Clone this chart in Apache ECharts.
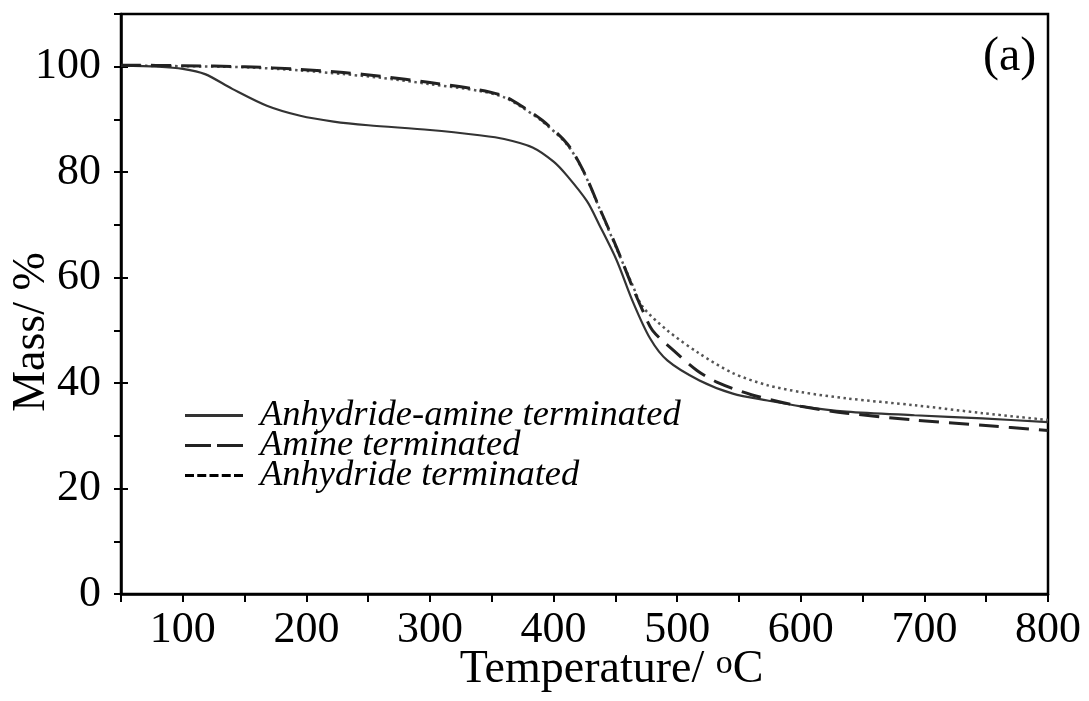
<!DOCTYPE html>
<html><head><meta charset="utf-8">
<script src="https://cdn.jsdelivr.net/npm/echarts@6/dist/echarts.min.js"></script>
<style>html,body{margin:0;padding:0;background:#fff}#c{width:1089px;height:701px}</style>
</head><body><div id="c"></div>
<script>
// Series names
const seriesNames = ['Anhydride-amine terminated', 'Amine terminated', 'Anhydride terminated'];
// Anhydride-amine terminated (solid)
const anhAmineTemp = [50, 80, 100, 118, 140, 168, 195, 222, 250, 300, 340, 360, 383, 400, 411, 427, 437, 451, 464, 478, 492, 518, 545, 573, 600, 637, 692, 747, 800];
const anhAmineMass = [100.2, 100, 99.6, 98.6, 95.8, 92.6, 90.7, 89.6, 88.9, 88.0, 87.0, 86.3, 84.7, 82.0, 79.3, 74.5, 70.0, 63.3, 55.5, 48.5, 44.3, 40.5, 38.0, 36.7, 35.6, 34.6, 33.9, 33.3, 32.6];
// Amine terminated (dashed)
const amineTemp = [50, 100, 150, 195, 230, 260, 300, 340, 360, 375, 391, 411, 424, 437, 451, 464, 472, 480, 497, 516, 532, 560, 600, 637, 692, 747, 800];
const amineMass = [100.3, 100.2, 100.0, 99.5, 98.9, 98.2, 97.0, 95.6, 94.4, 92.4, 89.8, 85.4, 80.3, 73.3, 65.7, 58.1, 53.8, 50.0, 46.2, 42.4, 40.2, 37.8, 35.6, 34.3, 33.0, 32.0, 31.0];
// Anhydride terminated (dotted)
const anhTemp = [50, 100, 150, 195, 230, 260, 300, 340, 360, 375, 391, 411, 424, 437, 451, 464, 472, 492, 518, 545, 573, 600, 637, 692, 747, 800];
const anhMass = [100.2, 100.1, 99.9, 99.3, 98.6, 97.9, 96.7, 95.4, 94.2, 92.2, 89.6, 85.2, 80.2, 73.2, 65.5, 58.5, 54.5, 50.0, 45.6, 41.9, 39.6, 38.3, 37.1, 35.8, 34.3, 33.0];
// Axis ticks
const xTickLabels = [100, 200, 300, 400, 500, 600, 700, 800];
const yTickLabels = [0, 20, 40, 60, 80, 100];

const zip = (a, b) => a.map((v, i) => [v, b[i]]);
const serif = 'Liberation Serif';

const chart = echarts.init(document.getElementById('c'), null, {renderer: 'canvas'});
chart.setOption({
  animation: false,
  backgroundColor: '#fff',
  title: {text: '(a)', left: 978, top: 28, textStyle: {fontFamily: serif, fontSize: 48, fontWeight: 'normal', color: '#000'}},
  grid: {left: 121, right: 41, top: 14, bottom: 107, show: true, borderColor: '#000', borderWidth: 2.5,
    containLabel: false, outerBoundsMode: 'none'},
  legend: {
    orient: 'vertical', left: 180, top: 392, itemWidth: 58, itemHeight: 3, itemGap: -7, selectedMode: false,
    textStyle: {fontFamily: serif, fontStyle: 'italic', fontSize: 36.5, color: '#000', padding: [0, 0, 0, 12]},
    data: [
      {name: seriesNames[0], icon: 'path://M0,0h58v3h-58z', itemStyle: {color: '#333'}},
      {name: seriesNames[1], icon: 'path://M0,0h26v3h-26zM32,0h26v3h-26z', itemStyle: {color: '#222'}},
      {name: seriesNames[2], icon: 'path://M0,0h9v3h-9zM12.25,0h9v3h-9zM24.5,0h9v3h-9zM36.75,0h9v3h-9zM49,0h9v3h-9z', itemStyle: {color: '#000'}}
    ]
  },
  xAxis: [{
    type: 'value', min: 50, max: 800, interval: 50,
    axisLine: {show: true, lineStyle: {color: '#000', width: 2.5}},
    axisTick: {show: true, length: 8, lineStyle: {color: '#000', width: 2}},
    axisLabel: {fontFamily: serif, fontSize: 44, color: '#000', margin: 14,
      formatter: v => xTickLabels.includes(v) ? String(v) : ''},
    splitLine: {show: false},
    name: 'Temperature/ {sup|o}C', nameLocation: 'middle', nameGap: 53, nameMoveOverlap: false,
    nameTextStyle: {fontFamily: serif, fontSize: 46, color: '#000', padding: [0, 0, 0, 54],
      rich: {sup: {fontFamily: serif, fontSize: 34, color: '#000', verticalAlign: 'top'}}}
  }],
  yAxis: [{
    type: 'value', min: 0, max: 110, interval: 10,
    axisLine: {show: true, lineStyle: {color: '#000', width: 2.5}},
    axisTick: {show: true, length: 7, lineStyle: {color: '#000', width: 2}},
    axisLabel: {fontFamily: serif, fontSize: 44, color: '#000', margin: 20,
      formatter: v => yTickLabels.includes(v) ? String(v) : ''},
    splitLine: {show: false},
    name: 'Mass/ %', nameLocation: 'middle', nameGap: 66, nameMoveOverlap: false,
    nameTextStyle: {fontFamily: serif, fontSize: 46, color: '#000', padding: [0, 56, 0, 0]}
  }, {
    type: 'value', min: 0, max: 110, interval: 20, position: 'left',
    axisLine: {show: false}, axisLabel: {show: false}, splitLine: {show: false},
    axisTick: {show: true, inside: true, length: 7, lineStyle: {color: '#000', width: 2}}
  }],
  series: [
    {name: seriesNames[0], type: 'line', symbol: 'none', smooth: 0.3, color: '#333',
      lineStyle: {color: '#333', width: 2.2, type: 'solid'}, data: zip(anhAmineTemp, anhAmineMass), z: 3},
    {name: seriesNames[1], type: 'line', symbol: 'none', smooth: 0.3, color: '#222',
      lineStyle: {color: '#222', width: 3, type: [20, 10]}, data: zip(amineTemp, amineMass), z: 4},
    {name: seriesNames[2], type: 'line', symbol: 'none', smooth: 0.3, color: '#555',
      lineStyle: {color: '#555', width: 2.5, type: [2.5, 3.5]}, data: zip(anhTemp, anhMass), z: 2}
  ]
});
</script></body></html>
